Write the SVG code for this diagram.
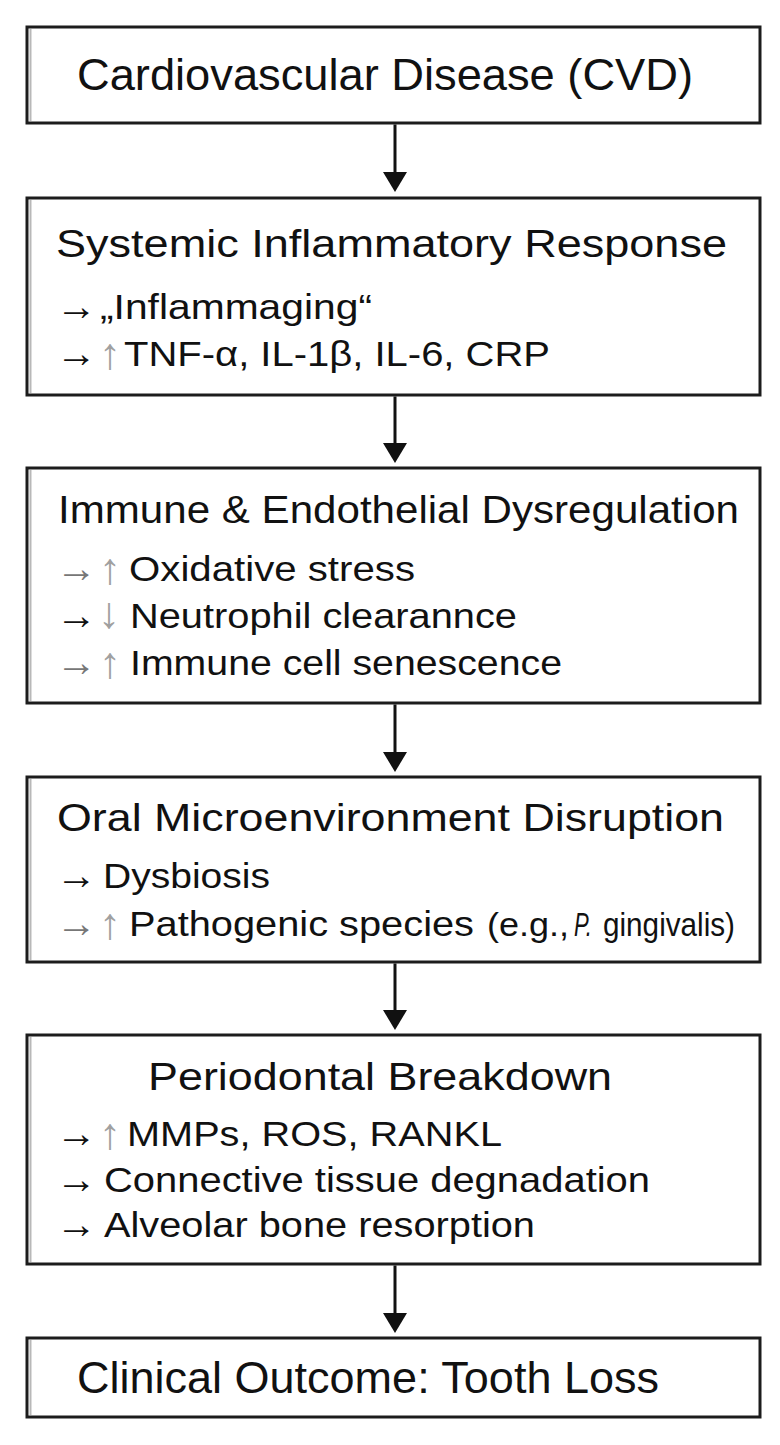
<svg xmlns="http://www.w3.org/2000/svg" width="780" height="1445" viewBox="0 0 780 1445">
  <style>
    .box { fill: #ffffff; stroke: #1c1c1c; stroke-width: 3; }
    .shade { stroke: #b8b8b8; stroke-width: 2; fill: none; }
    .t { font-family: "Liberation Sans", Arial, sans-serif; fill: #111111; }
    .title { font-size: 38px; }
    .big { font-size: 45px; }
    .item { font-size: 35px; }
    .arr { font-family: "Liberation Sans", "DejaVu Sans", sans-serif; font-size: 41px; fill: #111111; }
    .arrg { font-family: "Liberation Sans", "DejaVu Sans", sans-serif; font-size: 41px; fill: #777777; }
    .ud { font-family: "Liberation Sans", "DejaVu Sans", sans-serif; font-size: 44px; fill: #a0a0a0; text-anchor: middle; }
    .paren { font-family: "Liberation Sans", Arial, sans-serif; font-size: 33px; fill: #111111; }
    .conn { stroke: #111111; stroke-width: 3; fill: none; }
  </style>
  <defs>
    <marker id="head" markerUnits="userSpaceOnUse" viewBox="0 -12 20 24" refX="14" refY="0" markerWidth="20" markerHeight="24" orient="auto">
      <path d="M0,-12 L20,0 L0,12 z" fill="#111111"/>
    </marker>
  </defs>
  <rect x="0" y="0" width="780" height="1445" fill="#ffffff"/>

  <g id="node-cvd">
    <rect class="box" x="27" y="27" width="733" height="96"/>
    <line class="shade" x1="30.5" y1="29" x2="30.5" y2="121"/>
    <text class="t big" x="77" y="90" textLength="616" lengthAdjust="spacingAndGlyphs">Cardiovascular Disease (CVD)</text>
  </g>

  <g id="node-systemic">
    <rect class="box" x="27" y="198" width="733" height="197"/>
    <line class="shade" x1="30.5" y1="200" x2="30.5" y2="393"/>
    <text class="t title" x="56" y="257" textLength="671" lengthAdjust="spacingAndGlyphs">Systemic Inflammatory Response</text>
    <text class="arr" x="56" y="320">→</text>
    <text class="t item" x="100" y="319" textLength="272" lengthAdjust="spacingAndGlyphs">„Inflammaging“</text>
    <text class="arr" x="56" y="367">→</text>
    <text class="ud" x="110" y="369">↑</text>
    <text class="t item" x="124" y="366" textLength="426" lengthAdjust="spacingAndGlyphs">TNF-α, IL-1β, IL-6, CRP</text>
  </g>

  <g id="node-immune">
    <rect class="box" x="27" y="468" width="733" height="235"/>
    <line class="shade" x1="30.5" y1="470" x2="30.5" y2="701"/>
    <text class="t title" x="58" y="523" textLength="681" lengthAdjust="spacingAndGlyphs">Immune &amp; Endothelial Dysregulation</text>
    <text class="arrg" x="56" y="582">→</text>
    <text class="ud" x="110" y="584">↑</text>
    <text class="t item" x="129" y="581" textLength="286" lengthAdjust="spacingAndGlyphs">Oxidative stress</text>
    <text class="arr" x="56" y="629">→</text>
    <text class="ud" x="109" y="628">↓</text>
    <text class="t item" x="130" y="628" textLength="387" lengthAdjust="spacingAndGlyphs">Neutrophil clearannce</text>
    <text class="arrg" x="56" y="676">→</text>
    <text class="ud" x="110" y="678">↑</text>
    <text class="t item" x="130" y="675" textLength="432" lengthAdjust="spacingAndGlyphs">Immune cell senescence</text>
  </g>

  <g id="node-oral">
    <rect class="box" x="27" y="777" width="733" height="185"/>
    <line class="shade" x1="30.5" y1="779" x2="30.5" y2="960"/>
    <text class="t title" x="57" y="831" textLength="667" lengthAdjust="spacingAndGlyphs">Oral Microenvironment Disruption</text>
    <text class="arr" x="56" y="889">→</text>
    <text class="t item" x="103" y="888" textLength="167" lengthAdjust="spacingAndGlyphs">Dysbiosis</text>
    <text class="arrg" x="56" y="937">→</text>
    <text class="ud" x="110" y="939">↑</text>
    <text class="t item" x="129" y="936" textLength="345" lengthAdjust="spacingAndGlyphs">Pathogenic species</text>
    <text class="paren" x="487" y="936" textLength="82" lengthAdjust="spacingAndGlyphs">(e.g.,</text>
    <text class="paren" x="574" y="936" font-style="italic" textLength="18" lengthAdjust="spacingAndGlyphs">P.</text>
    <text class="paren" x="603" y="936" textLength="132" lengthAdjust="spacingAndGlyphs">gingivalis)</text>
  </g>

  <g id="node-periodontal">
    <rect class="box" x="27" y="1035" width="733" height="229"/>
    <line class="shade" x1="30.5" y1="1037" x2="30.5" y2="1262"/>
    <text class="t title" x="148" y="1090" font-size="39" textLength="464" lengthAdjust="spacingAndGlyphs">Periodontal Breakdown</text>
    <text class="arr" x="56" y="1147">→</text>
    <text class="ud" x="110" y="1149">↑</text>
    <text class="t item" x="127" y="1146" textLength="375" lengthAdjust="spacingAndGlyphs">MMPs, ROS, RANKL</text>
    <text class="arr" x="56" y="1193">→</text>
    <text class="t item" x="104" y="1192" textLength="546" lengthAdjust="spacingAndGlyphs">Connective tissue degnadation</text>
    <text class="arr" x="56" y="1238">→</text>
    <text class="t item" x="104" y="1237" textLength="431" lengthAdjust="spacingAndGlyphs">Alveolar bone resorption</text>
  </g>

  <g id="node-outcome">
    <rect class="box" x="27" y="1338" width="733" height="79"/>
    <line class="shade" x1="30.5" y1="1340" x2="30.5" y2="1415"/>
    <text class="t big" x="77" y="1393" font-size="46" textLength="582" lengthAdjust="spacingAndGlyphs">Clinical Outcome: Tooth Loss</text>
  </g>

  <g id="connectors">
    <line class="conn" x1="395" y1="124.5" x2="395" y2="186" marker-end="url(#head)"/>
    <line class="conn" x1="395" y1="396.5" x2="395" y2="457" marker-end="url(#head)"/>
    <line class="conn" x1="395" y1="704.5" x2="395" y2="766" marker-end="url(#head)"/>
    <line class="conn" x1="395" y1="963.5" x2="395" y2="1024" marker-end="url(#head)"/>
    <line class="conn" x1="395" y1="1265.5" x2="395" y2="1327" marker-end="url(#head)"/>
  </g>
</svg>
